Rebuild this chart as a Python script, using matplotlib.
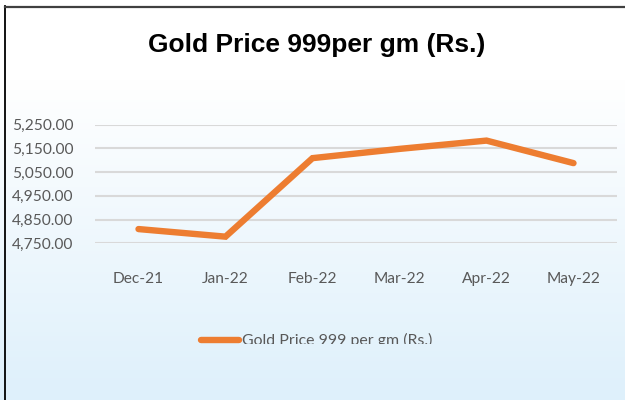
"""Gold price 999 per gm line chart, Dec-21 to May-22."""

import numpy as np
import matplotlib
matplotlib.use("Agg")
import matplotlib.pyplot as plt
from matplotlib.lines import Line2D
from matplotlib.transforms import Bbox, TransformedBbox


months = ["Dec-21", "Jan-22", "Feb-22", "Mar-22", "Apr-22", "May-22"]
prices = [4810, 4778, 5109, 5148, 5183, 5088]
yticks = [4750, 4850, 4950, 5050, 5150, 5250]

narrow = ["Lato", "DejaVu Sans"]
label_grey = "#595959"
orange = "#ED7D31"


def display(outfile="out.png"):
    fig = plt.figure(figsize=(6.25, 4), dpi=100)

    # background: white at top fading to light blue
    bg = fig.add_axes([0, 0, 1, 1], zorder=-10)
    grad = np.linspace(0, 1, 400)
    grad = np.clip((grad - 0.2) / 0.8, 0, 1)
    top = np.array([1.0, 1.0, 1.0])
    bottom = np.array([0xDE, 0xF0, 0xFB]) / 255
    img = top[None, :] * (1 - grad[:, None]) + bottom[None, :] * grad[:, None]
    bg.imshow(img[:, None, :], aspect="auto", extent=[0, 1, 0, 1], origin="upper")
    bg.set_axis_off()

    # frame edges
    fig.add_artist(Line2D([0.0072, 0.0072], [0, 0.985], color="black", lw=1.3,
                          transform=fig.transFigure))
    fig.add_artist(Line2D([0.0072, 1], [0.983, 0.983], color="#404040", lw=1.6,
                          transform=fig.transFigure))

    ax = fig.add_axes([0.152, 0.39175, 0.8352, 0.2965])
    ax.patch.set_alpha(0)
    x = np.arange(len(months))
    ax.plot(x, prices, color=orange, lw=4.6, solid_capstyle="round",
            solid_joinstyle="miter", label="Gold Price 999 per gm (Rs.)",
            clip_on=False, zorder=3)

    ax.set_xlim(-0.5, len(months) - 0.5)
    ax.set_ylim(yticks[0], yticks[-1])
    ax.set_yticks(yticks)
    ax.set_yticklabels(["{:,.2f}".format(v) for v in yticks])
    ax.set_xticks(x)
    ax.set_xticklabels(months)
    ax.grid(axis="y", color="#D9D9D9", lw=1.5)
    ax.set_axisbelow(True)
    for s in ax.spines.values():
        s.set_visible(False)
    ax.tick_params(length=0, colors=label_grey, labelsize=11.2)
    ax.tick_params(axis="y", pad=15.5)
    ax.tick_params(axis="x", pad=20.5)
    for t in ax.get_xticklabels() + ax.get_yticklabels():
        t.set_family(narrow)

    fig.text(0.5067, 0.869, "Gold Price 999per gm (Rs.)", ha="center",
             va="baseline", fontsize=19, fontweight="bold",
             family=["Liberation Sans", "DejaVu Sans"])

    leg = ax.legend(loc="center left", bbox_to_anchor=(0.322, 0.148),
                    bbox_transform=fig.transFigure, frameon=False,
                    handlelength=2.4, handletextpad=0.15, borderpad=0,
                    borderaxespad=0, prop={"family": narrow, "size": 11.4})
    for t in leg.get_texts():
        t.set_color(label_grey)
        t.set_clip_box(TransformedBbox(Bbox([[0, 0.14], [1, 1]]), fig.transFigure))
        t.set_clip_on(True)

    plt.savefig(outfile, dpi=100)
    plt.close()


if __name__ == "__main__":
    display()
